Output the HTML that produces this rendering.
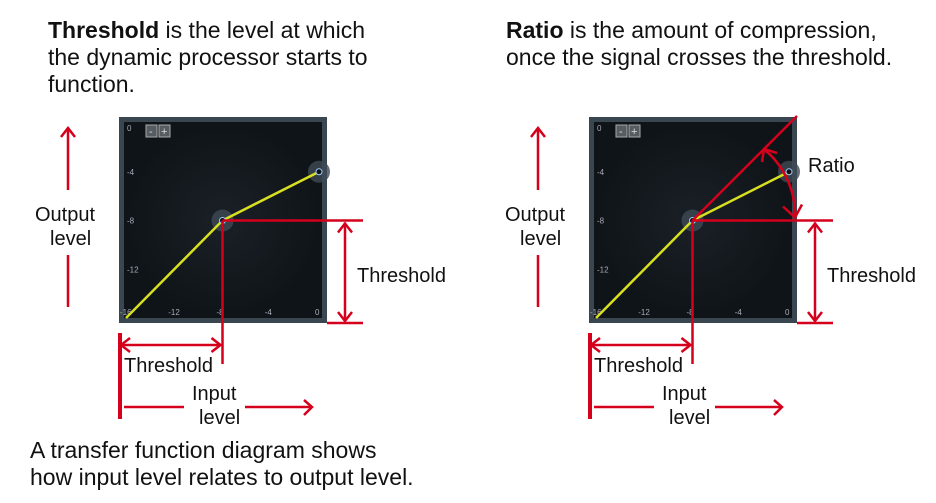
<!DOCTYPE html>
<html><head><meta charset="utf-8"><style>
body{margin:0;background:#fff;width:936px;height:503px;overflow:hidden;font-family:"Liberation Sans",sans-serif}
svg{position:absolute;left:0;top:0}
</style></head><body>
<svg id="s" width="936" height="503">
<defs><radialGradient id="g"><stop offset="0" stop-color="#1a2026"/><stop offset="1" stop-color="#0f1418"/></radialGradient></defs>
<g font-size="23" fill="#111">
<text x="48" y="38"><tspan font-weight="bold">Threshold</tspan> is the level at which</text>
<text x="48" y="65">the dynamic processor starts to</text>
<text x="48" y="92">function.</text>
<text x="506" y="38"><tspan font-weight="bold">Ratio</tspan> is the amount of compression,</text>
<text x="506" y="65">once the signal crosses the threshold.</text>
<text x="30" y="458">A transfer function diagram shows</text>
<text x="30" y="485">how input level relates to output level.</text>
</g>
<g id="panels"></g>
</svg>
<script>
const xTicks=[-16,-12,-8,-4,0];
const yTicks=[0,-4,-8,-12];
const curveIn=[-16,-8,0];
const curveOut=[-16,-8,-4];
const panels=[{x0:119,name:'left'},{x0:589,name:'right'}];
const NS='http://www.w3.org/2000/svg';
const root=document.getElementById('panels');
function mk(tag,at,p){const e=document.createElementNS(NS,tag);for(const k in at)e.setAttribute(k,at[k]);(p||root).appendChild(e);return e;}
const R='#d4001c';
panels.forEach(P=>{
 const L=P.x0, T=117, W=208;
 const px=v=>L+7+(v+16)/16*193, py=v=>T+6+(-v)/16*195;
 const g=mk('g',{});
 
 
 const fr=mk('rect',{x:L,y:T,width:W,height:206,fill:'#3b4750'},g);
 
 mk('rect',{x:L+5,y:T+5,width:W-10,height:196,fill:'url(#g)'},g);
 const bm=mk('rect',{x:L+27,y:T+8,width:11,height:12,fill:'#555c62',stroke:'#aaa','stroke-width':1},g);
 
 const bp=mk('rect',{x:L+40,y:T+8,width:11,height:12,fill:'#555c62',stroke:'#aaa','stroke-width':1},g);
 
 const t1=mk('text',{x:L+30,y:T+18,fill:'#ddd','font-size':11},g);t1.textContent='-';
 const t2=mk('text',{x:L+42,y:T+18,fill:'#ddd','font-size':11},g);t2.textContent='+';
 xTicks.forEach(v=>{const t=mk('text',{x:px(v)-(v==0?4:6),y:T+198,fill:'#aab','font-size':8},g);t.textContent=v;
  });
 yTicks.forEach(v=>{const t=mk('text',{x:L+8,y:py(v)+(v==0?8:3),fill:'#aab','font-size':8},g);t.textContent=v;
  });
 mk('circle',{cx:px(curveIn[1]),cy:py(curveOut[1]),r:11,fill:'#3e4a55',opacity:.8},g);
 mk('circle',{cx:px(curveIn[2]),cy:py(curveOut[2]),r:11,fill:'#3e4a55',opacity:.8},g);
 const c=mk('polyline',{points:curveIn.map((v,i)=>px(v)+','+py(curveOut[i])).join(' '),fill:'none',stroke:'#d8e020','stroke-width':2.5},g);
 
 mk('circle',{cx:px(curveIn[1]),cy:py(curveOut[1]),r:3,fill:'#111',stroke:'#9cf'},g);
 mk('circle',{cx:px(curveIn[2]),cy:py(curveOut[2]),r:3,fill:'#111',stroke:'#9cf'},g);
 const tx=px(curveIn[1]), ty=py(curveOut[1]);
 const a=mk('g',{stroke:R,'stroke-width':2.5,fill:'none'},g);
 
 const ln=(x1,y1,x2,y2,w)=>mk('line',{x1,y1,x2,y2,'stroke-width':w||2.5},a);
 ln(tx,ty,L+244,ty); ln(tx,ty,tx,T+247);
 ln(L+208,T+206,L+244,T+206);
 ln(L+226,ty+2,L+226,T+204); mk('path',{d:`M${L+219} ${ty+12}L${L+226} ${ty+3}L${L+233} ${ty+12}M${L+219} ${T+195}L${L+226} ${T+204}L${L+233} ${T+195}`},a);
 ln(L+2,T+228,tx-2,T+228); mk('path',{d:`M${L+11} ${T+221}L${L+2} ${T+228}L${L+11} ${T+235}M${tx-11} ${T+221}L${tx-2} ${T+228}L${tx-11} ${T+235}`},a);
 ln(L+1,T+216,L+1,T+302,4);
 ln(L+5,T+290,L+65,T+290); ln(L+126,T+290,L+192,T+290);
 mk('path',{d:`M${L+185} ${T+283}L${L+193} ${T+290}L${L+185} ${T+298}`},a);
 const ox=L-51;
 ln(ox,T+12,ox,T+73); ln(ox,T+138,ox,T+190);
 mk('path',{d:`M${ox-7} ${T+20}L${ox} ${T+11}L${ox+7} ${T+20}`},a);
 const lab=(x,y,s,n)=>{const t=mk('text',{x,y,'font-size':20,fill:'#111'},g);t.textContent=s;};
 lab(L+238,T+165,'Threshold','threshold-label-vertical');
 lab(L+5,T+255,'Threshold','threshold-label-horizontal');
 lab(L+73,T+283,'Input','input-level-label');lab(L+80,T+307,'level','input-level-label-2');
 lab(ox-33,T+104,'Output','output-level-label');lab(ox-18,T+128,'level','output-level-label-2');
 if(P.name=='right'){
  ln(tx,ty,L+208,T-1);
  mk('path',{d:`M${L+176} ${T+33}A85 85 0 0 1 ${L+206} ${ty-4}`},a);
  mk('path',{d:`M${L+173} ${T+45}L${L+175} ${T+32}L${L+188} ${T+36}M${L+194} ${ty-14}L${L+206} ${ty-3}L${L+213} ${ty-16}`},a);
  lab(L+219,T+55,'Ratio','ratio-label');
 }
});
</script>
</body></html>
